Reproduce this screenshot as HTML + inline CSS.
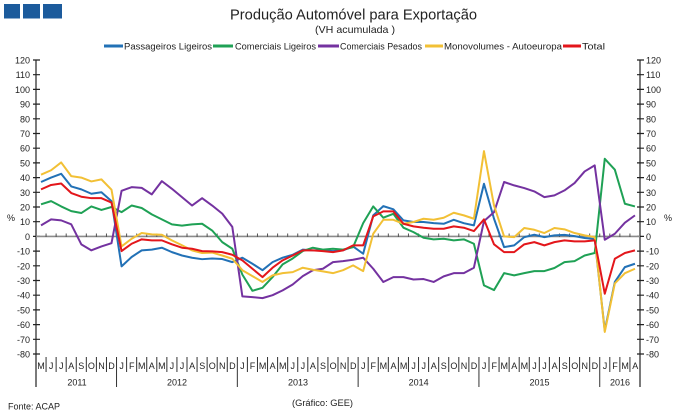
<!DOCTYPE html>
<html><head><meta charset="utf-8"><style>
html,body{margin:0;padding:0;background:#fff;}
svg{display:block;font-family:"Liberation Sans",Arial,sans-serif;}
</style></head><body>
<svg width="679" height="416" viewBox="0 0 679 416" xmlns="http://www.w3.org/2000/svg">
<rect width="679" height="416" fill="#fff"/>
<!-- logo -->
<rect x="4" y="4" width="16" height="14.5" fill="#1c5b9c"/>
<rect x="23" y="4" width="17" height="14.5" fill="#1c5b9c"/>
<rect x="43" y="4" width="19" height="14.5" fill="#1c5b9c"/>
<!-- titles -->
<text x="230" y="19.5" font-size="15" fill="#222" textLength="247" lengthAdjust="spacingAndGlyphs">Produção Automóvel  para Exportação</text>
<text x="315" y="33" font-size="10.5" fill="#222" textLength="80" lengthAdjust="spacingAndGlyphs">(VH acumulada )</text>
<!-- legend -->
<g stroke-width="3">
<line x1="104" y1="46" x2="123" y2="46" stroke="#2271b6"/>
<line x1="213" y1="46" x2="233" y2="46" stroke="#1fa155"/>
<line x1="318" y1="46" x2="339" y2="46" stroke="#7432a0"/>
<line x1="425" y1="46" x2="443" y2="46" stroke="#f2c035"/>
<line x1="563" y1="46" x2="581" y2="46" stroke="#e3161b"/>
</g>
<g font-size="9" fill="#222">
<text x="124" y="49.5" textLength="88" lengthAdjust="spacingAndGlyphs">Passageiros Ligeiros</text>
<text x="235" y="49.5" textLength="81" lengthAdjust="spacingAndGlyphs">Comerciais Ligeiros</text>
<text x="340" y="49.5" textLength="82" lengthAdjust="spacingAndGlyphs">Comerciais Pesados</text>
<text x="444" y="49.5" textLength="118" lengthAdjust="spacingAndGlyphs">Monovolumes - Autoeuropa</text>
<text x="582" y="49.5" textLength="23" lengthAdjust="spacingAndGlyphs">Total</text>
</g>
<!-- axes -->
<g stroke="#222" stroke-width="1.2">
<line x1="36" y1="60" x2="36" y2="387"/>
<line x1="640" y1="60" x2="640" y2="387"/>
</g>
<g stroke="#222" stroke-width="1.2">
<path d="M33 60.0H40M33 74.7H40M33 89.4H40M33 104.1H40M33 118.8H40M33 133.5H40M33 148.2H40M33 162.9H40M33 177.6H40M33 192.3H40M33 207.0H40M33 221.7H40M33 236.4H40M33 251.1H40M33 265.8H40M33 280.5H40M33 295.2H40M33 309.9H40M33 324.6H40M33 339.3H40M33 354.0H40"/>
<path d="M637 60.0H644M637 74.7H644M637 89.4H644M637 104.1H644M637 118.8H644M637 133.5H644M637 148.2H644M637 162.9H644M637 177.6H644M637 192.3H644M637 207.0H644M637 221.7H644M637 236.4H644M637 251.1H644M637 265.8H644M637 280.5H644M637 295.2H644M637 309.9H644M637 324.6H644M637 339.3H644M637 354.0H644"/>
</g>
<g font-size="9" fill="#222" text-anchor="end">
<text x="30" y="63.5">120</text><text x="30" y="78.2">110</text><text x="30" y="92.9">100</text><text x="30" y="107.6">90</text><text x="30" y="122.3">80</text><text x="30" y="137">70</text><text x="30" y="151.7">60</text><text x="30" y="166.4">50</text><text x="30" y="181.1">40</text><text x="30" y="195.8">30</text><text x="30" y="210.5">20</text><text x="30" y="225.2">10</text><text x="30" y="239.9">0</text><text x="30" y="254.6">-10</text><text x="30" y="269.3">-20</text><text x="30" y="284">-30</text><text x="30" y="298.7">-40</text><text x="30" y="313.4">-50</text><text x="30" y="328.1">-60</text><text x="30" y="342.8">-70</text><text x="30" y="357.5">-80</text>
</g>
<g font-size="9" fill="#222">
<text x="646" y="63.5">120</text><text x="646" y="78.2">110</text><text x="646" y="92.9">100</text><text x="646" y="107.6">90</text><text x="646" y="122.3">80</text><text x="646" y="137">70</text><text x="646" y="151.7">60</text><text x="646" y="166.4">50</text><text x="646" y="181.1">40</text><text x="646" y="195.8">30</text><text x="646" y="210.5">20</text><text x="646" y="225.2">10</text><text x="646" y="239.9">0</text><text x="646" y="254.6">-10</text><text x="646" y="269.3">-20</text><text x="646" y="284">-30</text><text x="646" y="298.7">-40</text><text x="646" y="313.4">-50</text><text x="646" y="328.1">-60</text><text x="646" y="342.8">-70</text><text x="646" y="357.5">-80</text>
<text x="7" y="221">%</text>
<text x="664" y="221">%</text>
</g>
<!-- zero line with ticks -->
<line x1="36" y1="236.4" x2="640" y2="236.4" stroke="#8a8a8a" stroke-width="1.6"/>
<g transform="translate(36,0) scale(10.0667,1)">
<path vector-effect="non-scaling-stroke" stroke="#555" stroke-width="1" fill="none" d="M1 233.5V237M2 233.5V237M3 233.5V237M4 233.5V237M5 233.5V237M6 233.5V237M7 233.5V237M8 233.5V237M9 233.5V237M10 233.5V237M11 233.5V237M12 233.5V237M13 233.5V237M14 233.5V237M15 233.5V237M16 233.5V237M17 233.5V237M18 233.5V237M19 233.5V237M20 233.5V237M21 233.5V237M22 233.5V237M23 233.5V237M24 233.5V237M25 233.5V237M26 233.5V237M27 233.5V237M28 233.5V237M29 233.5V237M30 233.5V237M31 233.5V237M32 233.5V237M33 233.5V237M34 233.5V237M35 233.5V237M36 233.5V237M37 233.5V237M38 233.5V237M39 233.5V237M40 233.5V237M41 233.5V237M42 233.5V237M43 233.5V237M44 233.5V237M45 233.5V237M46 233.5V237M47 233.5V237M48 233.5V237M49 233.5V237M50 233.5V237M51 233.5V237M52 233.5V237M53 233.5V237M54 233.5V237M55 233.5V237M56 233.5V237M57 233.5V237M58 233.5V237M59 233.5V237"/>
<!-- month separators -->
<path vector-effect="non-scaling-stroke" stroke="#333" stroke-width="1" fill="none" d="M1 357V372M2 357V372M3 357V372M4 357V372M5 357V372M6 357V372M7 357V372M8 357V387M9 357V372M10 357V372M11 357V372M12 357V372M13 357V372M14 357V372M15 357V372M16 357V372M17 357V372M18 357V372M19 357V372M20 357V387M21 357V372M22 357V372M23 357V372M24 357V372M25 357V372M26 357V372M27 357V372M28 357V372M29 357V372M30 357V372M31 357V372M32 357V387M33 357V372M34 357V372M35 357V372M36 357V372M37 357V372M38 357V372M39 357V372M40 357V372M41 357V372M42 357V372M43 357V372M44 357V387M45 357V372M46 357V372M47 357V372M48 357V372M49 357V372M50 357V372M51 357V372M52 357V372M53 357V372M54 357V372M55 357V372M56 357V387M57 357V372M58 357V372M59 357V372"/>
</g>
<!-- month labels -->
<g font-size="9" fill="#222" text-anchor="middle">
<text x="41" y="369">M</text><text x="51.1" y="369">J</text><text x="61.2" y="369">J</text><text x="71.2" y="369">A</text><text x="81.3" y="369">S</text><text x="91.4" y="369">O</text><text x="101.5" y="369">N</text><text x="111.5" y="369">D</text>
<text x="121.6" y="369">J</text><text x="131.7" y="369">F</text><text x="141.7" y="369">M</text><text x="151.8" y="369">A</text><text x="161.9" y="369">M</text><text x="171.9" y="369">J</text><text x="182" y="369">J</text><text x="192.1" y="369">A</text><text x="202.2" y="369">S</text><text x="212.2" y="369">O</text><text x="222.3" y="369">N</text><text x="232.4" y="369">D</text>
<text x="242.4" y="369">J</text><text x="252.5" y="369">F</text><text x="262.6" y="369">M</text><text x="272.6" y="369">A</text><text x="282.7" y="369">M</text><text x="292.8" y="369">J</text><text x="302.9" y="369">J</text><text x="312.9" y="369">A</text><text x="323" y="369">S</text><text x="333.1" y="369">O</text><text x="343.1" y="369">N</text><text x="353.2" y="369">D</text>
<text x="363.3" y="369">J</text><text x="373.3" y="369">F</text><text x="383.4" y="369">M</text><text x="393.5" y="369">A</text><text x="403.6" y="369">M</text><text x="413.6" y="369">J</text><text x="423.7" y="369">J</text><text x="433.8" y="369">A</text><text x="443.8" y="369">S</text><text x="453.9" y="369">O</text><text x="464" y="369">N</text><text x="474" y="369">D</text>
<text x="484.1" y="369">J</text><text x="494.2" y="369">F</text><text x="504.3" y="369">M</text><text x="514.3" y="369">A</text><text x="524.4" y="369">M</text><text x="534.5" y="369">J</text><text x="544.5" y="369">J</text><text x="554.6" y="369">A</text><text x="564.7" y="369">S</text><text x="574.7" y="369">O</text><text x="584.8" y="369">N</text><text x="594.9" y="369">D</text>
<text x="605" y="369">J</text><text x="615" y="369">F</text><text x="625.1" y="369">M</text><text x="635.2" y="369">A</text>
<text x="77" y="385.5">2011</text><text x="177" y="385.5">2012</text><text x="298" y="385.5">2013</text><text x="418.6" y="385.5">2014</text><text x="539.5" y="385.5">2015</text><text x="620" y="385.5">2016</text>
</g>
<!-- footer -->
<text x="8" y="409.5" font-size="9" fill="#222">Fonte: ACAP</text>
<text x="292" y="406" font-size="9" fill="#222" textLength="61" lengthAdjust="spacingAndGlyphs">(Gráfico:  GEE)</text>
<!-- series -->
<g transform="matrix(10.0667 0 0 -1.47 41.03 236.4)" fill="none" stroke-width="2" stroke-linejoin="round">
<polyline vector-effect="non-scaling-stroke" stroke="#2271b6" points="0,37 1,40 2,42.6 3,34 4,32 5,29 6,30 7,24 8,-20.4 9,-14 10,-9.5 11,-9 12,-7.7 13,-10.7 14,-13 15,-14.5 16,-15.5 17,-15 18,-15.4 19,-17.5 20,-14.5 21,-18.6 22,-23 23,-17.5 24,-14.5 25,-12.5 26,-9 27,-9.5 28,-9.5 29,-10 30,-9.5 31,-6.8 32,-11.8 33,14.3 34,20.6 35,18.4 36,10.9 37,9.8 38,9.8 39,9 40,8.6 41,11.3 42,9 43,7.5 44,35.8 45,12 46,-7.3 47,-6.1 48,-0.5 49,1.1 50,-0.5 51,0.7 52,1 53,0.2 54,-1.1 55,-1.8 56,-64 57,-31 58,-20.9 59,-18.6"/>
<polyline vector-effect="non-scaling-stroke" stroke="#1fa155" points="0,21.8 1,24 2,20.4 3,17.2 4,15.9 5,20.4 6,18 7,20 8,16.5 9,21 10,19.3 11,15 12,11.6 13,8.2 14,7.3 15,8.2 16,8.6 17,4 18,-3.9 19,-8.4 20,-26 21,-37 22,-35 23,-27.7 24,-19 25,-15 26,-10 27,-7.7 28,-9 29,-8.4 30,-9 31,-7.3 32,9 33,20.4 34,12.7 35,15.4 36,5.9 37,2.9 38,-0.9 39,-2 40,-1.6 41,-2.7 42,-2 43,-5 44,-33.3 45,-36.5 46,-25 47,-26.5 48,-25 49,-23.6 50,-23.6 51,-21.5 52,-17.5 53,-16.8 54,-13 55,-11.3 56,52.8 57,45.4 58,22.2 59,20.4"/>
<polyline vector-effect="non-scaling-stroke" stroke="#7432a0" points="0,7.5 1,11.6 2,10.9 3,8.2 4,-5.4 5,-9.5 6,-6.8 7,-4.6 8,31 9,33.5 10,33 11,28.6 12,37.6 13,32.4 14,26.7 15,21 16,26 17,21 18,15.5 19,6.5 20,-40.8 21,-41.3 22,-42 23,-40 24,-36.7 25,-32.7 26,-27 27,-23 28,-22 29,-17.5 30,-16.8 31,-15.9 32,-14.5 33,-22 34,-31 35,-27.7 36,-27.7 37,-29.3 38,-29 39,-31 40,-27.2 41,-25 42,-25 43,-21.3 44,10.4 45,16.5 46,37 47,34.7 48,32.9 49,30.6 50,26.7 51,27.9 52,31.3 53,36.3 54,44.2 55,48.3 56,-2.3 57,1.8 58,9.3 59,14.3"/>
<polyline vector-effect="non-scaling-stroke" stroke="#f2c035" points="0,42 1,45 2,50.3 3,41 4,40 5,37.4 6,38.8 7,31.8 8,-6.8 9,-1.6 10,2.3 11,1.4 12,1.1 13,-2.7 14,-6 15,-9.5 16,-11.3 17,-11 18,-13 19,-15.2 20,-23 21,-27 22,-31 23,-26.5 24,-25 25,-24.3 26,-21.3 27,-22.7 28,-23.8 29,-25 30,-23 31,-19.7 32,-23.6 33,1.8 34,11.3 35,11.3 36,8.6 37,9.8 38,12 39,11.3 40,12.7 41,16.1 42,14.3 43,12 44,58 45,21 46,0 47,-0.5 48,5.7 49,4.5 50,2.3 51,5.7 52,4.8 53,2.3 54,0.7 55,-0.5 56,-65 57,-32 58,-25 59,-22"/>
<polyline vector-effect="non-scaling-stroke" stroke="#e3161b" points="0,32 1,35 2,36 3,29.5 4,27 5,26 6,26 7,23 8,-10 9,-5 10,-2 11,-2.7 12,-2.7 13,-5.4 14,-7.7 15,-8.4 16,-10 17,-10.2 18,-10.7 19,-12.5 20,-16.3 21,-22 22,-27.7 23,-21.3 24,-16.3 25,-13 26,-9.5 27,-9.5 28,-10 29,-10.7 30,-9.5 31,-6.1 32,-6.1 33,13.6 34,17 35,17 36,8.6 37,6.8 38,5.9 39,5.2 40,5.2 41,6.8 42,5.9 43,3.6 44,11.6 45,-5.4 46,-10.7 47,-10.7 48,-5.4 49,-3.9 50,-6.1 51,-3.9 52,-2.7 53,-3.4 54,-3.4 55,-2.7 56,-39 57,-15.2 58,-11.3 59,-9.5"/>
</g>
</svg>
</body></html>
